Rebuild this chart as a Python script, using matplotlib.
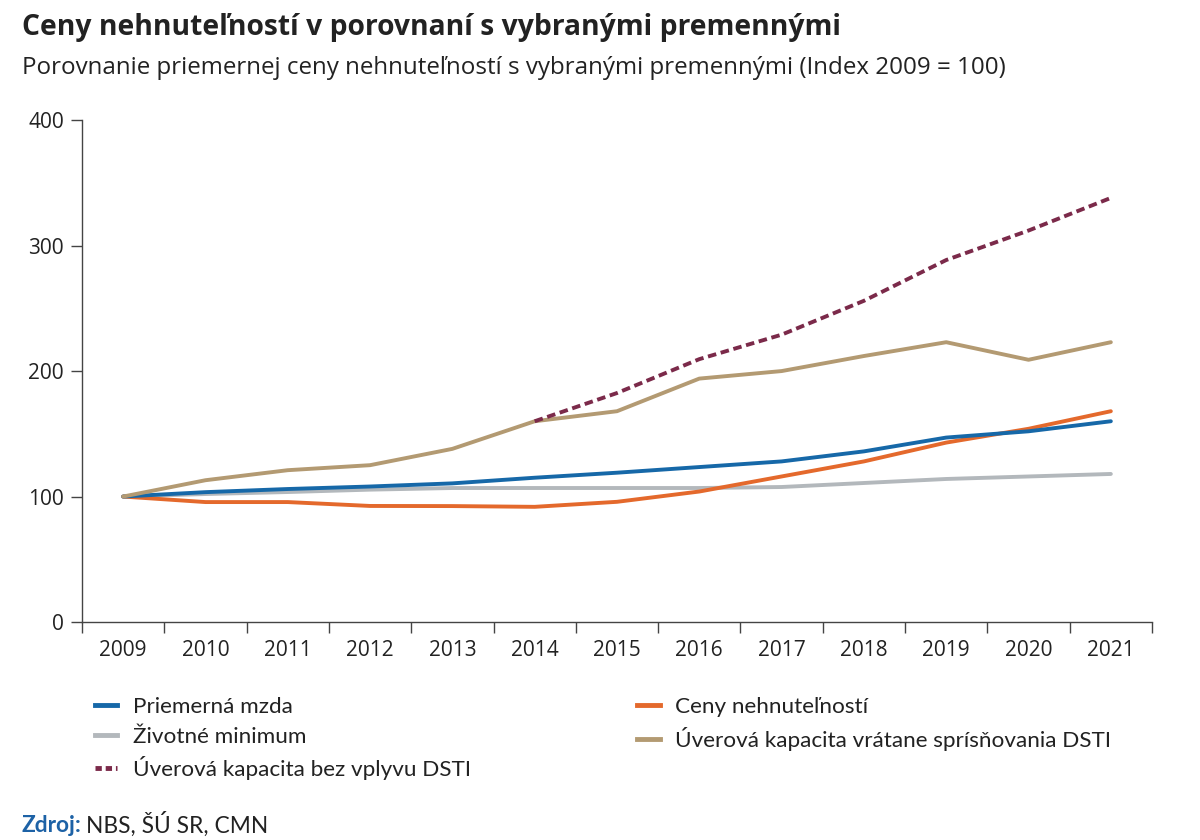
import matplotlib
matplotlib.use("Agg")
import matplotlib.pyplot as plt
from matplotlib.lines import Line2D

# Index 2009 = 100
years = [str(y) for y in range(2009, 2022)]
priemerna_mzda = [100, 103.5, 106, 108, 110.5, 115, 119, 123.5, 128, 136, 147, 152, 160]
ceny_nehnutelnosti = [100, 95.6, 95.6, 92.5, 92.4, 91.8, 95.8, 104, 116, 128, 143, 154, 168]
zivotne_minimum = [100, 102, 103.6, 105.5, 106.8, 106.8, 106.8, 106.8, 107.6, 110.8, 114, 116, 118]
uverova_s_dsti = [100, 113, 121, 125, 138, 160, 168, 194, 200, 212, 223, 209, 223]
uverova_bez_dsti = [None] * 5 + [160, 182.5, 209.5, 229, 256, 288.5, 312, 338]

title = "Ceny nehnuteľností v porovnaní s vybranými premennými"
subtitle = "Porovnanie priemernej ceny nehnuteľností s vybranými premennými (Index 2009 = 100)"

c_blue = "#1668a8"
c_orange = "#e4692c"
c_gray = "#b3b8bc"
c_tan = "#b39a72"
c_maroon = "#7b2a4a"
c_text = "#222222"

plt.rcParams["font.family"] = ["Open Sans", "DejaVu Sans"]
narrow = ["Lato", "DejaVu Sans"]

fig = plt.figure(figsize=(12, 8.4), dpi=100)
ax = fig.add_axes([0.0683, 0.2595, 0.8917, 0.5975])

x = list(range(len(years)))
lw = 2.8
ax.plot(x, zivotne_minimum, color=c_gray, lw=lw, solid_capstyle="round")
ax.plot(x, ceny_nehnutelnosti, color=c_orange, lw=lw, solid_capstyle="round")
ax.plot(x, priemerna_mzda, color=c_blue, lw=lw, solid_capstyle="round")
ax.plot(x, uverova_s_dsti, color=c_tan, lw=lw, solid_capstyle="round")
xb = [i for i, v in zip(x, uverova_bez_dsti) if v is not None]
yb = [v for v in uverova_bez_dsti if v is not None]
ax.plot(xb, yb, color=c_maroon, lw=lw, dashes=(2.2, 1.2))

ax.set_xlim(-0.5, len(years) - 0.5)
ax.set_ylim(0, 400)
ax.set_yticks([0, 100, 200, 300, 400])
ax.set_xticks([i - 0.5 for i in range(len(years) + 1)])
ax.set_xticklabels([])
ax.set_xticks(x, minor=True)
ax.set_xticklabels(years, minor=True)
ax.tick_params(axis="x", which="major", length=8, width=1, color="#444444", direction="out")
ax.tick_params(axis="x", which="minor", length=0, pad=13, labelsize=15, labelcolor=c_text)
ax.tick_params(axis="y", length=8, width=1, color="#444444", pad=5, labelsize=15, labelcolor=c_text)
for s in ["top", "right"]:
    ax.spines[s].set_visible(False)
for s in ["left", "bottom"]:
    ax.spines[s].set_color("#444444")
    ax.spines[s].set_linewidth(1)

fig.text(0.018, 0.967, title, fontsize=20.3, fontweight="bold", color=c_text, va="center")
fig.text(0.018, 0.919, subtitle, fontsize=17.4, color=c_text, va="center")

handles = [
    Line2D([], [], color=c_blue, lw=3.5),
    Line2D([], [], color=c_gray, lw=3.5),
    Line2D([], [], color=c_maroon, lw=3.5, dashes=(1.3, 0.8)),
    Line2D([], [], color=c_orange, lw=3.5),
    Line2D([], [], color=c_tan, lw=3.5),
]
labels = [
    "Priemerná mzda",
    "Životné minimum",
    "Úverová kapacita bez vplyvu DSTI",
    "Ceny nehnuteľností",
    "Úverová kapacita vrátane sprísňovania DSTI",
]
leg_kw = dict(loc="upper left", frameon=False, handlelength=1.0, handletextpad=0.7,
              labelspacing=0.42, borderaxespad=0, borderpad=0, labelcolor=c_text,
              prop={"family": narrow, "size": 16.2})
fig.legend(handles[:3], labels[:3], bbox_to_anchor=(0.079, 0.170), **leg_kw)
fig.legend(handles[3:], labels[3:], bbox_to_anchor=(0.531, 0.170), **leg_kw)

t = fig.text(0.018, 0.009, "Zdroj:", fontsize=16.4, fontweight="bold", color="#1d62a6",
             va="baseline", family=narrow)
fig.canvas.draw()
bb = t.get_window_extent()
fig.text(bb.x1 / fig.bbox.width + 0.004, 0.009, "NBS, ŠÚ SR, CMN", fontsize=16.4, color=c_text,
         va="baseline", family=narrow)

fig.savefig("out.png", dpi=100, facecolor="white")
